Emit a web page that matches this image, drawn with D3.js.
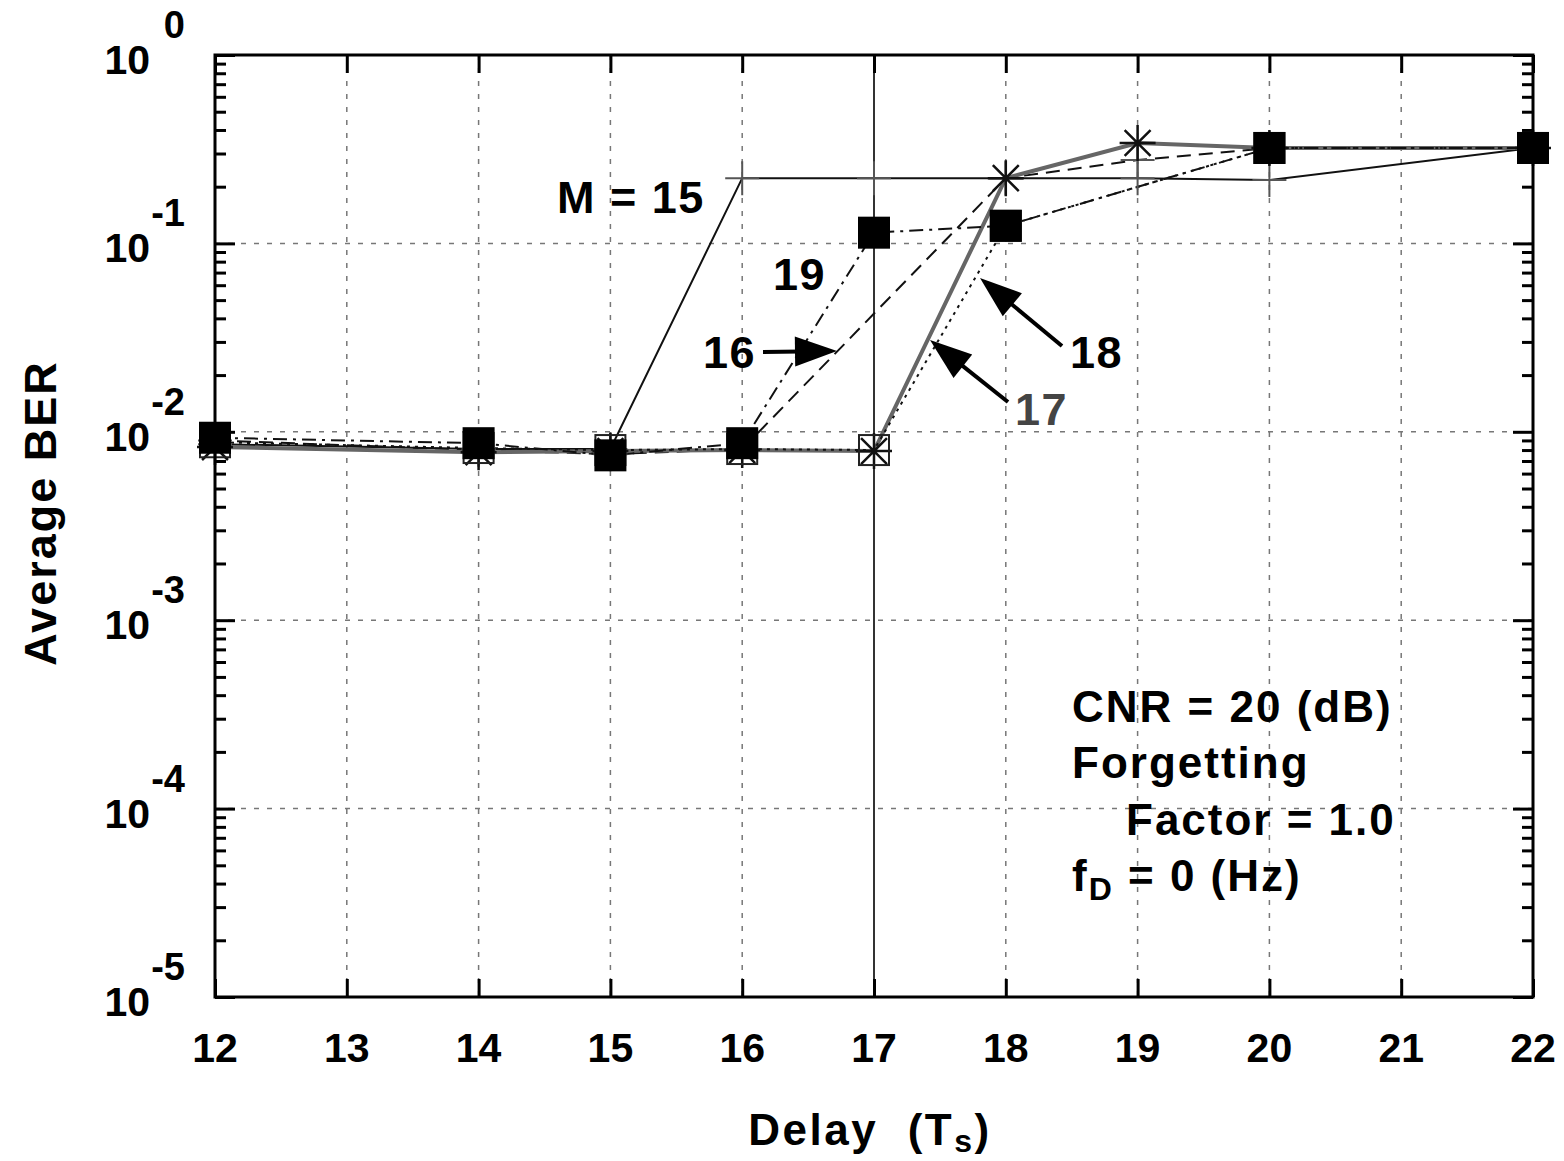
<!DOCTYPE html>
<html><head><meta charset="utf-8">
<script src="https://cdn.jsdelivr.net/npm/d3@7"></script>
<style>
html,body{margin:0;padding:0;background:#fff;}
text{font-family:"Liberation Sans",Arial,Helvetica,sans-serif;font-weight:bold;}
</style></head>
<body>
<svg id="chart" width="1564" height="1161"></svg>
<script>
// ---- data ----
const xTicks = [12,13,14,15,16,17,18,19,20,21,22];
const yDecades = [1e-5,1e-4,1e-3,1e-2,1e-1,1];
const yExponents = ["-5","-4","-3","-2","-1","0"];

const delaysM15 = [12,14,15,16,17,18,19,20,22];
const berM15    = [0.0086,0.0081,0.0081,0.222,0.222,0.222,0.222,0.217,0.321];
const delaysM16 = [12,14,15,16,18,19,20,22];
const berM16    = [0.0090,0.0080,0.0076,0.0081,0.222,0.277,0.321,0.321];
const delaysM17 = [12,14,15,16,17,18,19,20,22];
const berM17    = [0.0083,0.0078,0.0079,0.0080,0.0079,0.222,0.341,0.321,0.321];
const delaysM18 = [12,14,15,16,17,18,20,22];
const berM18    = [0.0088,0.0082,0.0080,0.0081,0.0080,0.124,0.321,0.321];
const delaysM19 = [12,14,15,16,17,18,20,22];
const berM19    = [0.0093,0.0087,0.0075,0.0087,0.114,0.124,0.321,0.321];

const seriesNames = ["M = 15","16","17","18","19"];

// ---- layout ----
const svg = d3.select("#chart");
const L = 215, R = 1533, T = 55, B = 997;
const x = d3.scaleLinear().domain([12,22]).range([L,R]);
const y = d3.scaleLog().domain([1e-5,1]).range([B,T]);

const series = [
  {name:seriesNames[0], xs:delaysM15, ys:berM15, stroke:"#111", width:2, dash:null, marker:"plus"},
  {name:seriesNames[1], xs:delaysM16, ys:berM16, stroke:"#111", width:2, dash:"14,8", marker:"plus"},
  {name:seriesNames[2], xs:delaysM17, ys:berM17, stroke:"#666", width:4, dash:null, marker:"star"},
  {name:seriesNames[3], xs:delaysM18, ys:berM18, stroke:"#111", width:2, dash:"3,5", marker:"openSquare"},
  {name:seriesNames[4], xs:delaysM19, ys:berM19, stroke:"#111", width:2, dash:"14,6,3,6", marker:"filledSquare"}
];

// grid
const grid = svg.append("g");
xTicks.slice(1,-1).forEach(v=>{
  grid.append("line").attr("x1",x(v)).attr("x2",x(v)).attr("y1",T).attr("y2",B)
    .attr("stroke","#777").attr("stroke-width",1.5).attr("stroke-dasharray","5,8");
});
yDecades.slice(1,-1).forEach(v=>{
  grid.append("line").attr("x1",L).attr("x2",R).attr("y1",y(v)).attr("y2",y(v))
    .attr("stroke","#777").attr("stroke-width",1.5).attr("stroke-dasharray","5,8");
});

// vertical reference line at 17
svg.append("line").attr("x1",x(17)).attr("x2",x(17)).attr("y1",T).attr("y2",B)
  .attr("stroke","#333").attr("stroke-width",2);

// minor ticks values
const minor = [];
for (let e=-5;e<0;e++) for (let k=2;k<=9;k++) minor.push(k*Math.pow(10,e));

// axes
const axL = svg.append("g").attr("transform",`translate(${L},0)`)
  .call(d3.axisRight(y).tickValues(yDecades).tickSize(20).tickFormat(""));
const axLm = svg.append("g").attr("transform",`translate(${L},0)`)
  .call(d3.axisRight(y).tickValues(minor).tickSize(11).tickFormat(""));
const axR = svg.append("g").attr("transform",`translate(${R},0)`)
  .call(d3.axisLeft(y).tickValues(yDecades).tickSize(20).tickFormat(""));
const axRm = svg.append("g").attr("transform",`translate(${R},0)`)
  .call(d3.axisLeft(y).tickValues(minor).tickSize(11).tickFormat(""));
const axB = svg.append("g").attr("transform",`translate(0,${B})`)
  .call(d3.axisTop(x).tickValues(xTicks).tickSize(18).tickFormat(""));
const axT = svg.append("g").attr("transform",`translate(0,${T})`)
  .call(d3.axisBottom(x).tickValues(xTicks).tickSize(18).tickFormat(""));
[axL,axLm,axR,axRm,axB,axT].forEach(g=>{
  g.select(".domain").remove();
  g.selectAll(".tick line").attr("stroke","#000").attr("stroke-width",3);
});

// series lines
const line = d3.line().x(d=>x(d[0])).y(d=>y(d[1]));
series.forEach(s=>{
  const pts = s.xs.map((v,i)=>[v,s.ys[i]]);
  svg.append("path").datum(pts).attr("d",line).attr("fill","none")
    .attr("stroke",s.stroke).attr("stroke-width",s.width)
    .attr("stroke-dasharray",s.dash);
});

// markers
function drawMarker(g,type,cx,cy){
  if(type==="plus"){
    g.append("path").attr("d",`M${cx-17},${cy}H${cx+17}M${cx},${cy-17}V${cy+17}`)
      .attr("stroke","#555").attr("stroke-width",2).attr("fill","none");
  } else if(type==="star"){
    const r=18, d=r*0.72;
    g.append("path").attr("d",`M${cx-r},${cy}H${cx+r}M${cx},${cy-r}V${cy+r}M${cx-d},${cy-d}L${cx+d},${cy+d}M${cx-d},${cy+d}L${cx+d},${cy-d}`)
      .attr("stroke","#111").attr("stroke-width",2.5).attr("fill","none");
  } else if(type==="openSquare"){
    g.append("rect").attr("x",cx-15).attr("y",cy-15).attr("width",30).attr("height",30)
      .attr("fill","none").attr("stroke","#222").attr("stroke-width",2);
  } else {
    g.append("rect").attr("x",cx-16).attr("y",cy-16).attr("width",32).attr("height",32)
      .attr("fill","#000");
  }
}
series.forEach(s=>{
  const g = svg.append("g");
  s.xs.forEach((v,i)=>drawMarker(g,s.marker,x(v),y(s.ys[i])));
});

// frame
svg.append("rect").attr("x",L).attr("y",T).attr("width",R-L).attr("height",B-T)
  .attr("fill","none").attr("stroke","#000").attr("stroke-width",3);

// tick labels
xTicks.forEach(v=>{
  svg.append("text").attr("x",x(v)).attr("y",1062).attr("text-anchor","middle")
    .attr("font-size",41).text(v);
});
yDecades.forEach((v,i)=>{
  const yy = y(v);
  svg.append("text").attr("x",150).attr("y",yy+19).attr("text-anchor","end")
    .attr("font-size",41).text("10");
  svg.append("text").attr("x",185).attr("y",yy-17).attr("text-anchor","end")
    .attr("font-size",38).text(yExponents[i]);
});

// axis titles
svg.append("text").attr("transform","translate(56,513) rotate(-90)")
  .attr("text-anchor","middle").attr("font-size",45).attr("letter-spacing","2px").text("Average BER");
const xt = svg.append("text").attr("x",870).attr("y",1145).attr("text-anchor","middle")
  .attr("font-size",44).attr("letter-spacing","2.5px").attr("xml:space","preserve");
xt.append("tspan").text("Delay  (T");
xt.append("tspan").attr("font-size",32).attr("dy",7).text("s");
xt.append("tspan").attr("dy",-7).text(")");

// annotations
const ann = svg.append("g").attr("letter-spacing","1.5px");
ann.append("text").attr("x",557).attr("y",213).attr("font-size",45).text(seriesNames[0]);
ann.append("text").attr("x",773).attr("y",290).attr("font-size",45).text(seriesNames[4]);
ann.append("text").attr("x",703).attr("y",368).attr("font-size",45).text(seriesNames[1]);
ann.append("text").attr("x",1070).attr("y",368).attr("font-size",45).text(seriesNames[3]);
ann.append("text").attr("x",1015).attr("y",425).attr("font-size",45).attr("fill","#444").text(seriesNames[2]);

function arrow(x1,y1,x2,y2){
  const ang = Math.atan2(y2-y1,x2-x1);
  const len=42, half=15;
  const bx = x2 - len*Math.cos(ang), by = y2 - len*Math.sin(ang);
  ann.append("line").attr("x1",x1).attr("y1",y1).attr("x2",bx+6*Math.cos(ang)).attr("y2",by+6*Math.sin(ang))
    .attr("stroke","#000").attr("stroke-width",4);
  const px = -Math.sin(ang), py = Math.cos(ang);
  ann.append("path").attr("d",`M${x2},${y2}L${bx+half*px},${by+half*py}L${bx-half*px},${by-half*py}Z`)
    .attr("fill","#000");
}
arrow(763,352,837,351);
arrow(1062,346,980,278);
arrow(1008,402,930,340);

// parameters box
const info = svg.append("g").attr("font-size",44).attr("letter-spacing","2px");
info.append("text").attr("x",1072).attr("y",722).text("CNR = 20 (dB)");
info.append("text").attr("x",1072).attr("y",778).text("Forgetting");
info.append("text").attr("x",1126).attr("y",835).text("Factor = 1.0");
const fd = info.append("text").attr("x",1072).attr("y",891);
fd.append("tspan").text("f");
fd.append("tspan").attr("font-size",32).attr("dy",9).text("D");
fd.append("tspan").attr("dy",-9).text(" = 0 (Hz)");
</script>
</body></html>
